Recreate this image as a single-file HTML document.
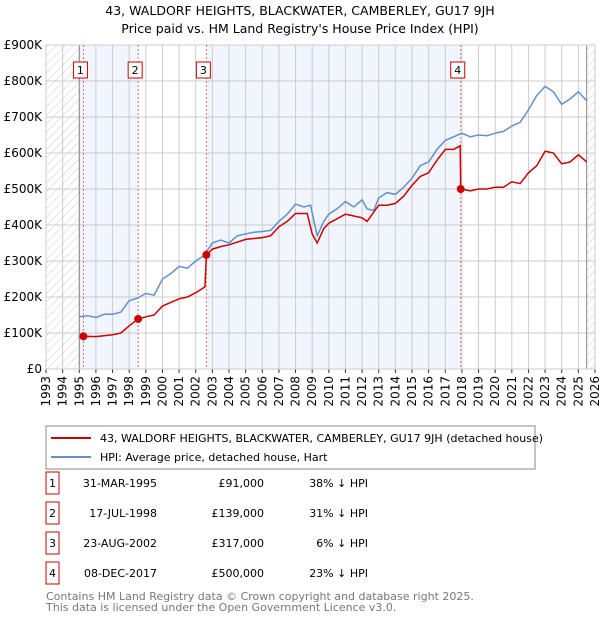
<!DOCTYPE html>
<html><head><meta charset="utf-8"><style>
body{margin:0;width:600px;height:620px;background:#fff;font-family:"Liberation Sans","DejaVu Sans",sans-serif;overflow:hidden}
svg text{font-family:"DejaVu Sans","Liberation Sans",sans-serif}
</style></head><body>
<svg id="c" width="600" height="620">
<defs><pattern id="hatch" width="6" height="6" patternUnits="userSpaceOnUse" patternTransform="rotate(45)"><line x1="0" y1="0" x2="0" y2="6" stroke="#ccc" stroke-width="1"/></pattern></defs>
<text x="300" y="15" text-anchor="middle" font-size="12.5">43, WALDORF HEIGHTS, BLACKWATER, CAMBERLEY, GU17 9JH</text>
<text x="300" y="33" text-anchor="middle" font-size="12.5">Price paid vs. HM Land Registry's House Price Index (HPI)</text>
<g id="plot"></g>
<rect x="46" y="426" width="489" height="43" fill="#fff" stroke="#888"/>
<line x1="51" y1="438" x2="91" y2="438" stroke="#cc0000" stroke-width="2"/>
<text x="100" y="442" font-size="11">43, WALDORF HEIGHTS, BLACKWATER, CAMBERLEY, GU17 9JH (detached house)</text>
<line x1="51" y1="457" x2="91" y2="457" stroke="#6090d0" stroke-width="2"/>
<text x="100" y="461" font-size="11">HPI: Average price, detached house, Hart</text>
<g id="table" font-size="11"></g>
<text x="46" y="600" font-size="11" fill="#777">Contains HM Land Registry data © Crown copyright and database right 2025.</text>
<text x="46" y="611" font-size="11" fill="#777">This data is licensed under the Open Government Licence v3.0.</text>
</svg>
<script>
const hpiT=[1995.0,1995.5,1996,1996.5,1997,1997.5,1998,1998.5,1999,1999.5,2000,2000.5,2001,2001.5,2002,2002.5,2003,2003.5,2004,2004.5,2005,2005.5,2006,2006.5,2007,2007.5,2008,2008.5,2008.9,2009.3,2009.7,2010,2010.5,2011,2011.5,2012,2012.3,2012.7,2013,2013.5,2014,2014.5,2015,2015.5,2016,2016.5,2017,2017.5,2018,2018.5,2019,2019.5,2020,2020.5,2021,2021.5,2022,2022.5,2023,2023.5,2024,2024.5,2025,2025.5];
const hpiV=[145,148,143,152,152,158,190,197,210,205,250,265,285,280,300,315,350,358,350,370,375,380,382,385,410,430,458,450,455,370,410,430,445,465,450,470,445,440,475,490,485,505,530,565,575,610,635,645,655,645,650,648,655,660,675,685,720,760,785,770,735,750,770,745];
const redT=[1995.25,1996,1997,1997.5,1998,1998.54,1999,1999.5,2000,2001,2001.5,2002,2002.55,2002.64,2003,2003.5,2004,2005,2006,2006.5,2007,2007.5,2008,2008.7,2009,2009.3,2009.7,2010,2011,2011.5,2012,2012.3,2013,2013.5,2014,2014.5,2015,2015.5,2016,2016.5,2017,2017.5,2017.9,2017.93,2018.5,2019,2019.5,2020,2020.5,2021,2021.5,2022,2022.5,2023,2023.5,2024,2024.5,2025,2025.5];
const redV=[91,90,95,100,120,139,145,150,175,195,200,212,228,317,333,340,345,360,365,370,395,410,432,432,375,350,390,405,430,425,420,410,455,455,460,480,510,535,545,580,610,610,620,500,495,500,500,505,505,520,515,545,565,605,600,570,575,595,575];
const saleT=[1995.25,1998.54,2002.64,2017.93];
const saleV=[91,139,317,500];
const saleLabels=["1","2","3","4"];
const saleDates=["31-MAR-1995","17-JUL-1998","23-AUG-2002","08-DEC-2017"];
const salePrices=["£91,000","£139,000","£317,000","£500,000"];
const saleDiff=["38% ↓ HPI","31% ↓ HPI","6% ↓ HPI","23% ↓ HPI"];
const yTicks=[0,100,200,300,400,500,600,700,800,900];
const yLabels=["£0","£100K","£200K","£300K","£400K","£500K","£600K","£700K","£800K","£900K"];
const xYears=[];for(let y=1993;y<=2026;y++)xYears.push(y);
const NS="http://www.w3.org/2000/svg";
const L=46,R=595,T=45,B=369;
const xs=t=>L+(t-1993)/(2026-1993)*(R-L);
const ys=v=>B-v/900*(B-T);
const g=document.getElementById('plot');
function mk(tag,at,p){const e=document.createElementNS(NS,tag);for(const k in at)e.setAttribute(k,at[k]);(p||g).appendChild(e);return e;}
// shading
let e=mk('rect',{x:L,y:T,width:xs(1995)-L,height:B-T,fill:'url(#hatch)'});


e=mk('rect',{x:xs(2025.5),y:T,width:R-xs(2025.5),height:B-T,fill:'url(#hatch)'});


[[1995,saleT[1]],[saleT[2],saleT[3]]].forEach(([a,b],i)=>{
 e=mk('rect',{x:xs(a),y:T,width:xs(b)-xs(a),height:B-T,fill:'#eef3fc',opacity:0.8});
 
 
});
// grid
yTicks.forEach((v,i)=>{
 mk('line',{x1:L,x2:R,y1:ys(v),y2:ys(v),stroke:'#ccc'});
 e=mk('text',{x:L-4,y:ys(v)+4,'text-anchor':'end','font-size':12});
 e.textContent=yLabels[i];
 
 
});
xYears.forEach(y=>{
 mk('line',{x1:xs(y),x2:xs(y),y1:T,y2:B,stroke:'#ccc'});
 mk('line',{x1:xs(y),x2:xs(y),y1:B,y2:B+4,stroke:'#333'});
 e=mk('text',{x:0,y:0,'font-size':12,'text-anchor':'end',transform:`translate(${xs(y)+4},${B+7}) rotate(-90)`});
 e.textContent=y;
 
 
});
mk('line',{x1:xs(1995),x2:xs(1995),y1:T,y2:B,stroke:'#888'});
mk('line',{x1:xs(2025.5),x2:xs(2025.5),y1:T,y2:B,stroke:'#888'});
mk('rect',{x:L,y:T,width:R-L,height:B-T,fill:'none',stroke:'#ccc'});
// sale markers lines
saleT.forEach((t,i)=>{
 mk('line',{x1:xs(t),x2:xs(t),y1:T,y2:B,stroke:'#e05050','stroke-dasharray':'2,2','stroke-width':0.8});
 const bx=xs(t)-7-(i==3?4:0)*0;
 e=mk('rect',{x:xs(t)-10,y:62,width:14,height:16,fill:'#fff',stroke:'#cc0000'});
 
 
 const tx=mk('text',{x:xs(t)-3,y:74,'text-anchor':'middle','font-size':11});
 tx.textContent=saleLabels[i];
});
function path(T_,V_,col,name){
 const d=T_.map((t,i)=>(i?'L':'M')+xs(t).toFixed(1)+','+ys(V_[i]).toFixed(1)).join('');
 const p=mk('path',{d:d,fill:'none',stroke:col,'stroke-width':1.5});
 
 
}
path(hpiT,hpiV,'#6090d0','hpi-line');
path(redT,redV,'#cc0000','property-line');
saleT.forEach((t,i)=>{
 const c=mk('circle',{cx:xs(t),cy:ys(saleV[i]),r:4,fill:'#cc0000'});
 
 
});
// table
const tb=document.getElementById('table');
saleLabels.forEach((l,i)=>{
 const y=484+i*30;
 let r=mk('rect',{x:46,y:y-12,width:13,height:22,fill:'#fff',stroke:'#cc0000'},tb);
 
 
 const cells=[[52.5,l,'middle'],[157,saleDates[i],'end'],[264,salePrices[i],'end'],[368,saleDiff[i],'end']];
 cells.forEach(([x,s,a])=>{const t=mk('text',{x:x,y:y+3,'text-anchor':a},tb);t.textContent=s;
  
  });
});
</script>
</body></html>
